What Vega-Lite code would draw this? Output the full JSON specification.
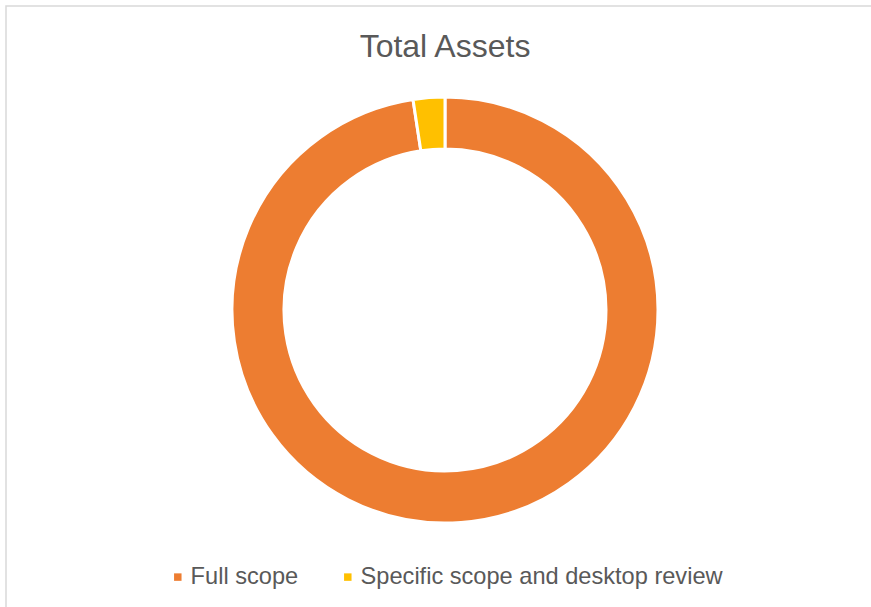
{
  "$schema": "https://vega.github.io/schema/vega-lite/v6.json",
  "autosize": "none",
  "padding": {"top": 6, "left": 6, "right": 0, "bottom": 0},
  "width": 878,
  "height": 608,
  "background": "white",
  "view": {"stroke": "#d9d9d9", "strokeWidth": 1.5, "fill": "white"},
  "config": {
    "font": "Liberation Sans"
  },
  "title": {
    "text": "Total Assets",
    "orient": "top",
    "anchor": "middle",
    "frame": "group",
    "offset": -58,
    "fontSize": 32,
    "fontWeight": "normal",
    "color": "#595959",
    "font": "Liberation Sans"
  },
  "data": {
    "values": [
      {"category": "Full scope", "value": 97.6, "order": 1},
      {"category": "Specific scope and desktop review", "value": 2.4, "order": 2}
    ]
  },
  "mark": {"type": "arc", "outerRadius": 213, "innerRadius": 161, "stroke": "white", "strokeWidth": 3},
  "encoding": {
    "theta": {"field": "value", "type": "quantitative", "stack": true},
    "order": {"field": "order", "type": "quantitative"},
    "color": {
      "field": "category",
      "type": "nominal",
      "scale": {"domain": ["Full scope", "Specific scope and desktop review"], "range": ["#ED7D31", "#FFC000"]},
      "legend": {
        "title": null,
        "orient": "none",
        "direction": "horizontal",
        "legendX": 160,
        "legendY": 559,
        "padding": 0,
        "symbolType": "square",
        "symbolSize": 56,
        "symbolStrokeWidth": 0,
        "labelFontSize": 23.6,
        "labelColor": "#595959",
        "labelFont": "Liberation Sans",
        "labelOffset": 1,
        "columnPadding": 37,
        "labelLimit": 600
      }
    }
  }
}
